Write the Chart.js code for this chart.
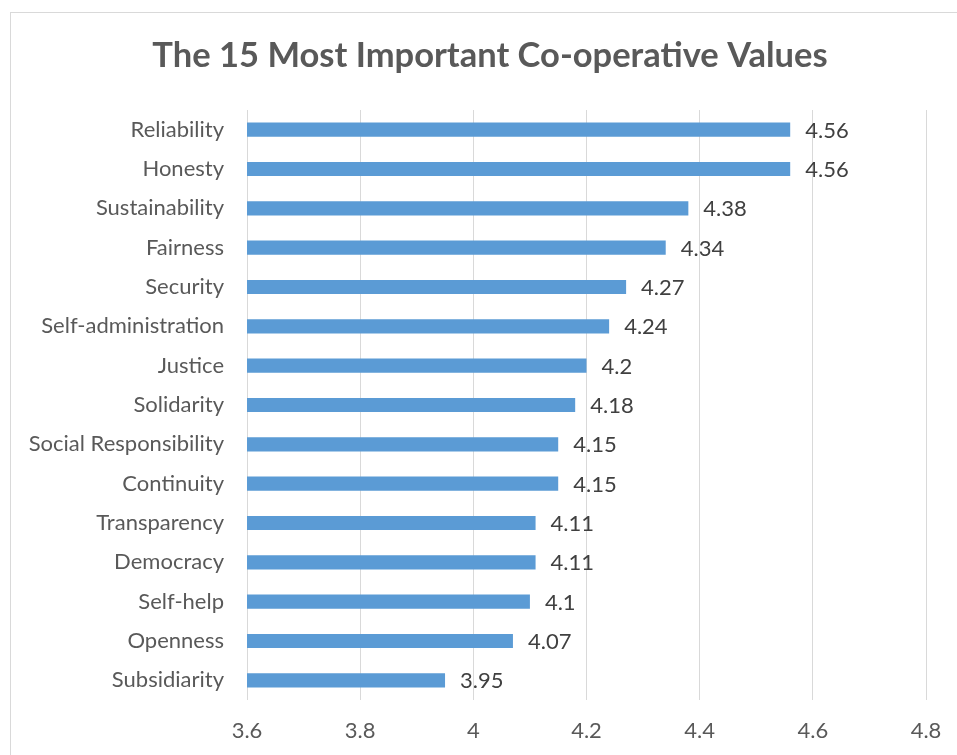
<!DOCTYPE html>
<html>
<head>
<meta charset="utf-8">
<script src="https://cdn.jsdelivr.net/npm/chart.js@4/dist/chart.umd.min.js"></script>
<style>
  html, body { margin: 0; padding: 0; background: #ffffff; overflow: hidden; width: 957px; height: 755px; }
  #frame { position: absolute; left: 10px; top: 12px; width: 1000px; height: 800px; border: 1px solid #d9d9d9; box-sizing: border-box; }
  #c { position: absolute; left: 0; top: 0; }
</style>
</head>
<body>
<div id="frame"></div>
<canvas id="c" width="957" height="755"></canvas>
<script>
const chartTitle = 'The 15 Most Important Co-operative Values';
const categories = ['Reliability', 'Honesty', 'Sustainability', 'Fairness', 'Security', 'Self-administration', 'Justice', 'Solidarity', 'Social Responsibility', 'Continuity', 'Transparency', 'Democracy', 'Self-help', 'Openness', 'Subsidiarity'];
const values = [4.56, 4.56, 4.38, 4.34, 4.27, 4.24, 4.2, 4.18, 4.15, 4.15, 4.11, 4.11, 4.1, 4.07, 3.95];
const xTickLabels = ['3.6', '3.8', '4', '4.2', '4.4', '4.6', '4.8'];

const FONT = 'Lato, "Open Sans", sans-serif';

const titlePlugin = {
  id: 'customTitle',
  afterDraw(chart) {
    const ctx = chart.ctx;
    ctx.save();
    ctx.font = 'bold 34.5px ' + FONT;
    ctx.fillStyle = '#595959';
    ctx.textAlign = 'center';
    ctx.textBaseline = 'middle';
    ctx.fillText(chartTitle, 490, 56);
    ctx.restore();
  }
};

const valueLabelPlugin = {
  id: 'valueLabels',
  afterDatasetsDraw(chart) {
    const ctx = chart.ctx;
    const meta = chart.getDatasetMeta(0);
    ctx.save();
    ctx.font = '22px ' + FONT;
    ctx.fillStyle = '#404040';
    ctx.textAlign = 'left';
    ctx.textBaseline = 'middle';
    meta.data.forEach((bar, i) => {
      ctx.fillText(String(values[i]), bar.x + 15, bar.y + 1);
    });
    ctx.restore();
  }
};

new Chart(document.getElementById('c'), {
  type: 'bar',
  data: {
    labels: categories,
    datasets: [{
      data: values,
      backgroundColor: '#5b9bd5',
      borderWidth: 0,
      categoryPercentage: 1,
      barPercentage: 0.36
    }]
  },
  options: {
    indexAxis: 'y',
    responsive: false,
    animation: false,
    devicePixelRatio: 1,
    layout: { padding: { top: 110, right: 31, bottom: 0, left: 0 } },
    plugins: {
      legend: { display: false },
      title: { display: false },
      tooltip: { enabled: false }
    },
    scales: {
      x: {
        min: 3.6,
        max: 4.8,
        ticks: {
          stepSize: 0.2,
          color: '#595959',
          font: { family: FONT, size: 22 },
          padding: 18,
          callback: (v, i) => xTickLabels[i]
        },
        grid: { color: '#d9d9d9', lineWidth: 1, drawTicks: false },
        border: { display: false },
        afterFit(scale) { scale.height = 55; scale.paddingLeft = 0; scale.paddingRight = 0; }
      },
      y: {
        ticks: {
          color: '#595959',
          font: { family: FONT, size: 22 },
          padding: 23,
          autoSkip: false
        },
        grid: { display: false, drawTicks: false },
        border: { display: false },
        afterFit(scale) { scale.width = 247; }
      }
    }
  },
  plugins: [titlePlugin, valueLabelPlugin]
});
</script>
</body>
</html>
